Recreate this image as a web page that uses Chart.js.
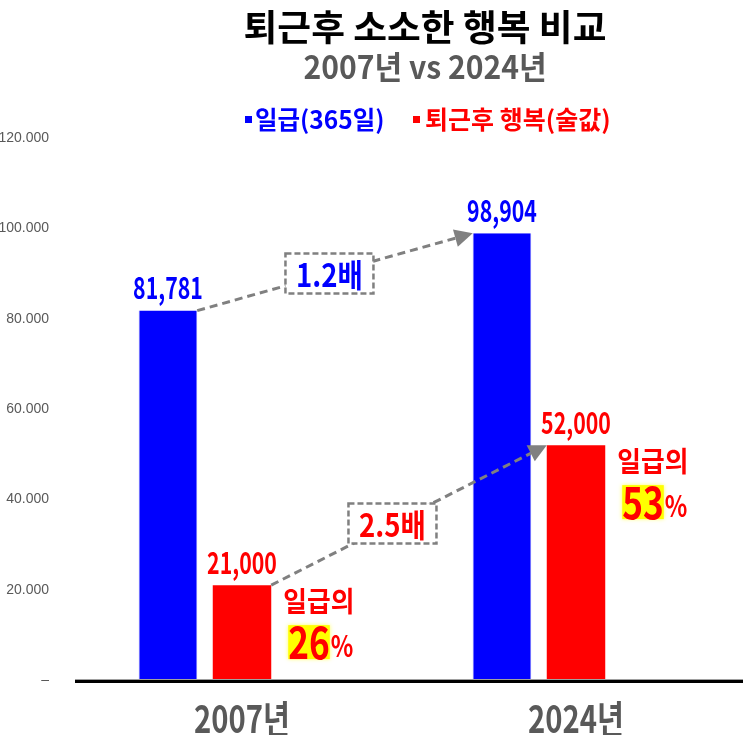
<!DOCTYPE html>
<html>
<head>
<meta charset="utf-8">
<script src="https://cdn.jsdelivr.net/npm/chart.js@4"></script>
<style>
  html, body { margin: 0; padding: 0; background: #fff; }
  #wrap { width: 743px; height: 735px; }
</style>
</head>
<body>
<div id="wrap"><canvas id="chart" width="743" height="735"></canvas></div>
<script>
// chart data
const categories = ['2007년', '2024년'];
const seriesNames = ['일급(365일)', '퇴근후 행복(술값)'];
const salary = [81781, 98904];
const happiness = [21000, 52000];
const growthLabels = ['1.2배', '2.5배'];
const shareOfSalary = ['26', '53'];
const yTickLabels = ['–', '20.000', '40.000', '60.000', '80.000', '100.000', '120.000'];

const BLUE = '#0000ff';
const RED = '#ff0000';
const GREY = '#595959';
const KR = '"Noto Sans CJK KR", "Noto Sans", sans-serif';

// draw text with optional horizontal squeeze (the original font is condensed)
function txt(ctx, s, x, y, font, color, align, sx) {
  ctx.save();
  ctx.font = font;
  ctx.fillStyle = color;
  ctx.textBaseline = 'middle';
  ctx.textAlign = align || 'center';
  ctx.translate(x, y);
  ctx.scale(sx || 1, 1);
  ctx.fillText(s, 0, 0);
  ctx.restore();
}

function textWidth(ctx, s, font, sx) {
  ctx.save();
  ctx.font = font;
  const w = ctx.measureText(s).width * (sx || 1);
  ctx.restore();
  return w;
}

function arrow(ctx, x1, y1, x2, y2) {
  const a = Math.atan2(y2 - y1, x2 - x1);
  const head = 18;
  ctx.save();
  ctx.strokeStyle = '#808080';
  ctx.fillStyle = '#808080';
  ctx.lineWidth = 3;
  ctx.setLineDash([8, 5]);
  ctx.beginPath();
  ctx.moveTo(x1, y1);
  ctx.lineTo(x2 - Math.cos(a) * head, y2 - Math.sin(a) * head);
  ctx.stroke();
  ctx.setLineDash([]);
  ctx.beginPath();
  ctx.moveTo(x2, y2);
  ctx.lineTo(x2 - Math.cos(a) * head - Math.sin(a) * 9, y2 - Math.sin(a) * head + Math.cos(a) * 9);
  ctx.lineTo(x2 - Math.cos(a) * head + Math.sin(a) * 9, y2 - Math.sin(a) * head - Math.cos(a) * 9);
  ctx.closePath();
  ctx.fill();
  ctx.restore();
}

function labelBox(ctx, cx, cy, text, color) {
  const w = 88, h = 40;
  ctx.save();
  ctx.fillStyle = '#fff';
  ctx.fillRect(cx - w / 2, cy - h / 2, w, h);
  ctx.strokeStyle = '#808080';
  ctx.lineWidth = 2.5;
  ctx.setLineDash([6, 3]);
  ctx.strokeRect(cx - w / 2, cy - h / 2, w, h);
  ctx.restore();
  txt(ctx, text, cx, cy + 1, 'bold 32px ' + KR, color, 'center', 0.86);
}

// share-of-salary note beside a red bar
function shareNote(ctx, x, y, pct) {
  txt(ctx, '일급의', x, y, 'bold 28px ' + KR, RED, 'left', 0.92);
  const numFont = 'bold 44px ' + KR;
  const nx = x + 5, ny = y + 41;
  const w = textWidth(ctx, pct, numFont, 0.8);
  ctx.save();
  ctx.fillStyle = '#ffff00';
  ctx.shadowColor = '#ffff66';
  ctx.shadowBlur = 4;
  ctx.fillRect(nx, ny - 17, w, 34);
  ctx.restore();
  txt(ctx, pct, nx, ny, numFont, RED, 'left', 0.8);
  txt(ctx, '%', nx + w + 1, ny + 3, 'bold 30px ' + KR, RED, 'left', 0.78);
}

const overlay = {
  id: 'overlay',
  afterDatasetsDraw(chart) {
    const ctx = chart.ctx;
    const area = chart.chartArea;
    const y0 = chart.scales.y.getPixelForValue(0);

    // base line
    ctx.save();
    ctx.fillStyle = '#a0a0a0';
    ctx.fillRect(area.left, y0 - 1, area.right - area.left, 1);
    ctx.fillStyle = '#000';
    ctx.fillRect(area.left, y0, area.right - area.left, 3);
    ctx.restore();

    const blue = chart.getDatasetMeta(0).data;
    const red = chart.getDatasetMeta(1).data;

    // value labels above bars
    blue.forEach((b, i) => {
      txt(ctx, salary[i].toLocaleString('en-US'), b.x, b.y - 23, 'bold 30px ' + KR, BLUE, 'center', 0.71);
    });
    red.forEach((b, i) => {
      txt(ctx, happiness[i].toLocaleString('en-US'), b.x, b.y - 23, 'bold 30px ' + KR, RED, 'center', 0.71);
    });

    // growth arrows
    const s1 = { x: blue[0].x + blue[0].width / 2, y: blue[0].y };
    const e1 = { x: blue[1].x - blue[1].width / 2, y: blue[1].y };
    arrow(ctx, s1.x, s1.y, e1.x, e1.y);
    labelBox(ctx, s1.x + (e1.x - s1.x) * 0.48, s1.y + (e1.y - s1.y) * 0.48, growthLabels[0], BLUE);

    const s2 = { x: red[0].x + red[0].width / 2, y: red[0].y };
    const e2 = { x: red[1].x - red[1].width / 2, y: red[1].y };
    arrow(ctx, s2.x, s2.y, e2.x, e2.y);
    labelBox(ctx, s2.x + (e2.x - s2.x) * 0.44, s2.y + (e2.y - s2.y) * 0.44, growthLabels[1], RED);

    // share notes
    red.forEach((b, i) => {
      shareNote(ctx, b.x + b.width / 2 + 12, b.y + 16, shareOfSalary[i]);
    });

    // category labels under the axis
    const xs = chart.scales.x;
    categories.forEach((c, i) => {
      txt(ctx, c, xs.getPixelForValue(i), y0 + 39, 'bold 38px ' + KR, GREY, 'center', 0.77);
    });

    // titles
    txt(ctx, '퇴근후 소소한 행복 비교', 425, 27, 'bold 36px ' + KR, '#000', 'center', 1.02);
    txt(ctx, '2007년 vs 2024년', 425, 67, 'bold 32px ' + KR, GREY, 'center', 0.94);

    // legend
    ctx.fillStyle = BLUE;
    ctx.fillRect(245, 116, 7, 7);
    txt(ctx, seriesNames[0], 255, 119, 'bold 25px ' + KR, BLUE, 'left', 0.98);
    ctx.fillStyle = RED;
    ctx.fillRect(413, 116, 7, 7);
    txt(ctx, seriesNames[1], 425, 119, 'bold 25px ' + KR, RED, 'left', 1.0);
  }
};

new Chart(document.getElementById('chart'), {
  type: 'bar',
  data: {
    labels: categories,
    datasets: [
      { label: seriesNames[0], data: salary, backgroundColor: BLUE, borderColor: '#7070ff', borderWidth: { left: 1, right: 1 } },
      { label: seriesNames[1], data: happiness, backgroundColor: RED },
      // empty slot so the red bar sits on the category centre
      { label: '', data: categories.map(() => null), backgroundColor: 'rgba(0,0,0,0)' }
    ]
  },
  options: {
    responsive: false,
    animation: false,
    categoryPercentage: 0.665,
    barPercentage: 0.79,
    layout: { padding: { top: 138, right: 0, bottom: 0, left: 0 } },
    plugins: {
      legend: { display: false },
      tooltip: { enabled: false }
    },
    scales: {
      x: {
        grid: { display: false },
        border: { display: false },
        ticks: { display: false },
        afterFit: s => { s.height = 55; }
      },
      y: {
        min: 0,
        max: 120000,
        grid: { display: false },
        border: { display: false },
        ticks: {
          stepSize: 20000,
          padding: 18,
          color: GREY,
          font: { family: '"Liberation Sans", Arial, sans-serif', size: 14 },
          callback: (v, i) => yTickLabels[i]
        },
        afterFit: s => { s.width = 75; }
      }
    }
  },
  plugins: [overlay]
});
</script>
</body>
</html>
